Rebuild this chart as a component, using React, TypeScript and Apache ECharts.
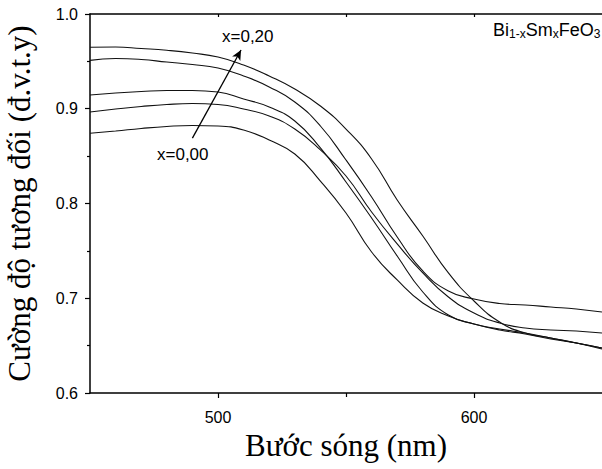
import React, { useEffect, useRef } from "react";
import * as echarts from "echarts";

const wavelengths = [450, 460, 470, 480, 490, 500, 510, 520, 530, 540, 550, 560, 570, 580, 590, 600, 610, 620, 630, 640, 650];

const curveA = [0.9649, 0.9652, 0.9636, 0.9617, 0.9588, 0.9546, 0.9462, 0.9346, 0.9208, 0.9029, 0.8786, 0.847, 0.8037, 0.7657, 0.7267, 0.6971, 0.6749, 0.6633, 0.6581, 0.6528, 0.6475];
const curveB = [0.9511, 0.953, 0.952, 0.9493, 0.9467, 0.943, 0.9346, 0.923, 0.9071, 0.8818, 0.8459, 0.8069, 0.7646, 0.7288, 0.7077, 0.6992, 0.6945, 0.6929, 0.6908, 0.6887, 0.6855];
const curveC = [0.9145, 0.9166, 0.9182, 0.9193, 0.9193, 0.9177, 0.9103, 0.9018, 0.8871, 0.8586, 0.8227, 0.7847, 0.7446, 0.7066, 0.6823, 0.6728, 0.6676, 0.6633, 0.6581, 0.6528, 0.6464];
const curveD = [0.8966, 0.8997, 0.9024, 0.9045, 0.9055, 0.9045, 0.8997, 0.8923, 0.8786, 0.8565, 0.829, 0.791, 0.7573, 0.7267, 0.7013, 0.6844, 0.6739, 0.6686, 0.6665, 0.6654, 0.6633];
const curveE = [0.8741, 0.8765, 0.8792, 0.8813, 0.8823, 0.8818, 0.8776, 0.867, 0.8522, 0.8237, 0.79, 0.7488, 0.7193, 0.695, 0.6813, 0.6728, 0.6665, 0.6623, 0.657, 0.6528, 0.6475];

const curves = [curveA, curveB, curveC, curveD, curveE];
const curveNames = ["A", "B", "C", "D", "E"];

const xTickLabels = [500, 600];
const xMinorTicks = [550];
const topTicks = [500, 550, 600];

const yTitle = "Cường độ tương đối (đ.v.t.y)";
const xTitle = "Bước sóng (nm)";
const labelHigh = "x=0,20";
const labelLow = "x=0,00";
const arrowStart = [490, 0.869];
const arrowEnd = [509, 0.962];

const SANS = "'Liberation Sans', Arial, sans-serif";
const SERIF = "'Liberation Serif', 'Times New Roman', serif";

export default function App() {
  const ref = useRef<HTMLDivElement>(null);
  useEffect(() => {
    if (!ref.current) return;
    const chart = echarts.init(ref.current, null, { renderer: "svg" });
    const series: any[] = curves.map((c, i) => ({
      type: "line",
      name: curveNames[i],
      data: wavelengths.map((w, j) => [w, c[j]]),
      showSymbol: false,
      smooth: 0.5,
      lineStyle: { color: "#111", width: 1.1 },
      silent: true,
    }));
    series[0].markLine = {
      silent: true,
      symbol: ["none", "arrow"],
      symbolSize: [7, 10],
      label: { show: false },
      lineStyle: { color: "#000", width: 1.3, type: "solid" },
      data: [[{ coord: arrowStart, symbol: "none" }, { coord: arrowEnd, symbol: "arrow" }]],
    };
    const option: any = {
      animation: false,
      grid: { left: 90, right: 0, top: 14, bottom: 76, outerBoundsMode: "none", containLabel: false },
      xAxis: [
        {
          type: "value",
          min: 450,
          max: 650,
          interval: 50,
          position: "bottom",
          name: xTitle,
          nameLocation: "middle",
          nameGap: 37,
          nameTextStyle: { fontFamily: SERIF, fontSize: 31, color: "#000" },
          axisLine: { show: true, lineStyle: { color: "#000", width: 1.5 } },
          axisTick: { show: true, length: 5, inside: false, customValues: xTickLabels, lineStyle: { color: "#000", width: 1.2 } },
          axisLabel: { show: true, customValues: xTickLabels, margin: 16, fontFamily: SANS, fontSize: 16, color: "#000" },
          splitLine: { show: false },
        },
        {
          type: "value",
          min: 450,
          max: 650,
          interval: 50,
          position: "bottom",
          axisLine: { show: false },
          axisTick: { show: true, length: 4, inside: false, customValues: xMinorTicks, lineStyle: { color: "#000", width: 1.2 } },
          axisLabel: { show: false },
          splitLine: { show: false },
        },
        {
          type: "value",
          min: 450,
          max: 650,
          interval: 50,
          position: "top",
          axisLine: { show: true, lineStyle: { color: "#000", width: 1.5 } },
          axisTick: { show: true, length: 3, inside: true, customValues: topTicks, lineStyle: { color: "#000", width: 1.2 } },
          axisLabel: { show: false },
          splitLine: { show: false },
        },
      ],
      yAxis: {
        type: "value",
        min: 0.6,
        max: 1.0,
        interval: 0.1,
        name: yTitle,
        nameLocation: "middle",
        nameGap: 55,
        nameTextStyle: { fontFamily: SERIF, fontSize: 31, color: "#000" },
        axisLine: { show: true, lineStyle: { color: "#000", width: 1.5 } },
        axisTick: { show: true, length: 5, inside: false, lineStyle: { color: "#000", width: 1.2 } },
        minorTick: { show: true, splitNumber: 2, length: 3, lineStyle: { color: "#000", width: 1.2 } },
        axisLabel: {
          margin: 12,
          fontFamily: SANS,
          fontSize: 16,
          color: "#000",
          formatter: (v: number) => v.toFixed(1),
        },
        splitLine: { show: false },
        minorSplitLine: { show: false },
      },
      series,
      graphic: [
        {
          type: "text",
          x: 222,
          y: 28,
          style: { text: labelHigh, font: `17px ${SANS}`, fill: "#000", align: "left", verticalAlign: "top" },
        },
        {
          type: "text",
          x: 157,
          y: 146,
          style: { text: labelLow, font: `17px ${SANS}`, fill: "#000", align: "left", verticalAlign: "top" },
        },
        {
          type: "text",
          x: 493,
          y: 21,
          style: {
            text: "{n|Bi}{s|1-x}{n|Sm}{s|x}{n|FeO}{s|3}",
            align: "left",
            verticalAlign: "top",
            rich: {
              n: { fontFamily: SANS, fontSize: 18, lineHeight: 19, verticalAlign: "top", fill: "#000" },
              s: { fontFamily: SANS, fontSize: 12, lineHeight: 12, verticalAlign: "bottom", padding: [12, 0, 0, 0], fill: "#000" },
            },
          },
        },
      ],
    };
    chart.setOption(option);
    return () => chart.dispose();
  }, []);
  return (
    <div
      ref={ref}
      style={{ position: "absolute", left: 0, top: 0, width: 602, height: 469, background: "#fff" }}
    />
  );
}
